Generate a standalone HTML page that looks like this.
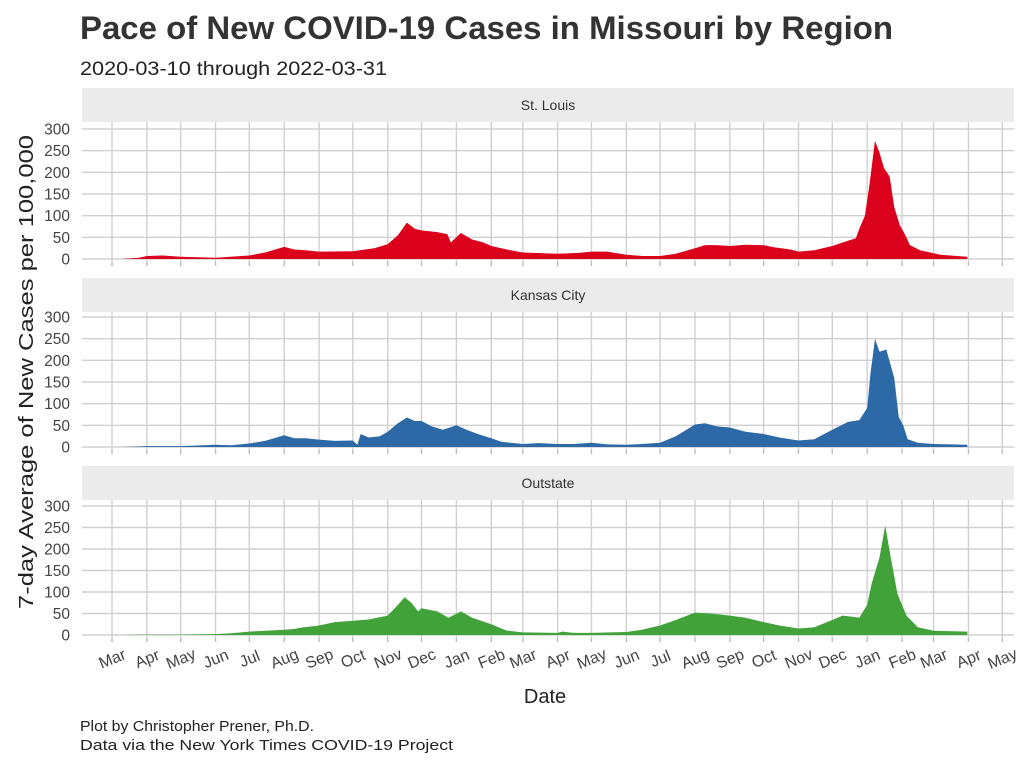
<!DOCTYPE html>
<html><head><meta charset="utf-8"><style>
body{margin:0;background:#fff;}
svg{display:block;font-family:"Liberation Sans",sans-serif;}
</style></head><body>
<svg id="c" width="1024" height="768"></svg>
<script>
const monthLabels=["Mar","Apr","May","Jun","Jul","Aug","Sep","Oct","Nov","Dec","Jan","Feb","Mar","Apr","May","Jun","Jul","Aug","Sep","Oct","Nov","Dec","Jan","Feb","Mar","Apr","May"];
const yTicks=[0,50,100,150,200,250,300];
const regions=["St. Louis","Kansas City","Outstate"];
const stlDates=["2020-03-10","2020-03-25","2020-04-01","2020-04-15","2020-05-01","2020-06-01","2020-07-01","2020-07-15","2020-08-01","2020-08-10","2020-08-20","2020-09-01","2020-10-01","2020-10-20","2020-11-01","2020-11-10","2020-11-18","2020-11-25","2020-12-01","2020-12-15","2020-12-24","2020-12-27","2021-01-05","2021-01-15","2021-01-25","2021-02-01","2021-02-15","2021-03-01","2021-04-01","2021-04-20","2021-05-01","2021-05-15","2021-06-01","2021-06-15","2021-07-01","2021-07-15","2021-08-01","2021-08-10","2021-08-20","2021-09-01","2021-09-15","2021-10-01","2021-10-10","2021-10-25","2021-11-01","2021-11-15","2021-12-01","2021-12-15","2021-12-22","2021-12-25","2021-12-30","2022-01-03","2022-01-08","2022-01-12","2022-01-16","2022-01-21","2022-01-25","2022-01-30","2022-02-04","2022-02-08","2022-02-17","2022-03-07","2022-03-31"];
const stlValues=[0,3,7,8,5,3,8,15,28,22,20,17,18,25,34,55,84,70,66,62,57,38,60,45,38,30,22,15,12,14,17,17,10,7,7,12,25,32,32,30,33,32,27,22,17,20,30,42,48,70,100,170,273,245,210,190,120,78,55,32,20,10,5];
const kcDates=["2020-03-10","2020-04-01","2020-05-01","2020-06-01","2020-06-15","2020-07-01","2020-07-15","2020-08-01","2020-08-10","2020-08-20","2020-09-01","2020-09-15","2020-10-01","2020-10-05","2020-10-08","2020-10-15","2020-10-25","2020-11-01","2020-11-10","2020-11-18","2020-11-25","2020-12-01","2020-12-10","2020-12-20","2021-01-01","2021-01-10","2021-01-20","2021-02-01","2021-02-10","2021-03-01","2021-03-15","2021-04-01","2021-04-15","2021-05-01","2021-05-15","2021-06-01","2021-06-15","2021-07-01","2021-07-15","2021-08-01","2021-08-10","2021-08-20","2021-09-01","2021-09-15","2021-10-01","2021-10-15","2021-11-01","2021-11-15","2021-12-01","2021-12-15","2021-12-25","2022-01-01","2022-01-04","2022-01-08","2022-01-12","2022-01-18","2022-01-25","2022-01-29","2022-02-02","2022-02-06","2022-02-15","2022-03-01","2022-03-31"];
const kcValues=[0,2,2,5,4,8,14,27,20,20,17,14,15,5,30,22,25,35,55,68,60,60,48,40,50,40,30,20,12,7,9,7,7,10,6,5,7,10,25,52,55,48,45,35,30,22,15,18,40,58,62,90,170,250,220,225,160,70,50,18,10,7,5];
const outDates=["2020-03-10","2020-04-01","2020-05-01","2020-06-01","2020-06-15","2020-07-01","2020-07-15","2020-08-01","2020-08-10","2020-08-15","2020-09-01","2020-09-15","2020-10-01","2020-10-15","2020-11-01","2020-11-10","2020-11-16","2020-11-22","2020-11-28","2020-12-01","2020-12-15","2020-12-25","2021-01-05","2021-01-15","2021-02-01","2021-02-15","2021-03-01","2021-04-01","2021-04-05","2021-04-15","2021-05-01","2021-06-01","2021-06-15","2021-07-01","2021-07-15","2021-08-01","2021-08-15","2021-09-01","2021-09-15","2021-10-01","2021-10-15","2021-11-01","2021-11-15","2021-12-01","2021-12-10","2021-12-20","2021-12-25","2022-01-01","2022-01-05","2022-01-12","2022-01-17","2022-01-22","2022-01-28","2022-02-05","2022-02-15","2022-03-01","2022-03-31"];
const outValues=[0,1,1,2,4,8,10,12,14,17,22,30,33,36,45,70,88,75,55,62,55,40,55,40,25,10,6,5,8,5,5,7,12,22,35,52,50,45,40,30,22,15,18,35,45,42,40,70,120,180,255,180,95,45,18,10,8];
const seriesDates=[stlDates,kcDates,outDates];
const seriesValues=[stlValues,kcValues,outValues];
const colors=["#db001b","#2d69a6","#41a23a"];

const NS="http://www.w3.org/2000/svg";
const svg=document.getElementById('c');
function el(t,a,p){const e=document.createElementNS(NS,t);for(const k in a)e.setAttribute(k,a[k]);(p||svg).appendChild(e);return e;}
const X0=82,X1=1014,PX0=80.5,day0=Date.UTC(2020,1,2),PXD=1.1254;
function xs(d){const t=typeof d==="string"?Date.parse(d+"T00:00:00Z"):d;return PX0+(t-day0)/86400000*PXD;}
const panels=[{strip:88,y0:259,y300:129},{strip:278,y0:447,y300:317},{strip:466,y0:635,y300:506}];
const monthDates=[];for(let i=0;i<monthLabels.length;i++){monthDates.push(Date.UTC(2020,2+i,1));}

let t=el('text',{x:80,y:39,'font-size':32,'font-weight':'bold',fill:'#333',textLength:813,lengthAdjust:'spacingAndGlyphs'});t.textContent="Pace of New COVID-19 Cases in Missouri by Region";

t=el('text',{x:80,y:75,'font-size':19,fill:'#222',textLength:307,lengthAdjust:'spacingAndGlyphs'});t.textContent="2020-03-10 through 2022-03-31";


panels.forEach((p,i)=>{
  const g=el('g',{});
  
  
  const ys=v=>p.y0-(v/300)*(p.y0-p.y300);
  const s=el('rect',{x:X0,y:p.strip,width:X1-X0,height:34,fill:'#ebebeb'},g);
  
  const st=el('text',{x:(X0+X1)/2,y:p.strip+22,'font-size':14,'text-anchor':'middle',fill:'#333'},g);st.textContent=regions[i];
  
  const top=p.strip+34,bot=ys(-7);
  monthDates.forEach(m=>{const x=xs(m);el('line',{x1:x,x2:x,y1:top,y2:bot,stroke:'#d0d0d0','stroke-width':1.4},g);el('line',{x1:x,x2:x,y1:bot,y2:bot+4,stroke:'#bbb','stroke-width':1.4},g);});
  yTicks.forEach(v=>{const y=ys(v);el('line',{x1:X0,x2:X1,y1:y,y2:y,stroke:'#d0d0d0','stroke-width':1.4},g);
    const l=el('text',{x:70,y:y+5.5,'font-size':15.5,'text-anchor':'end',fill:'#444'},g);l.textContent=v;
    });
  const D=seriesDates[i],V=seriesValues[i];
  let d='M'+xs(D[0]).toFixed(1)+','+ys(0);
  D.forEach((dt,k)=>{d+=' L'+xs(dt).toFixed(1)+','+ys(V[k]).toFixed(1);});
  d+=' L'+xs(D[D.length-1]).toFixed(1)+','+ys(0)+' Z';
  const a=el('path',{d:d,fill:colors[i]},g);
  
});
monthDates.forEach((m,i)=>{const x=xs(m);const l=el('text',{x:x,y:664,'font-size':16,'text-anchor':'middle',fill:'#444',transform:'rotate(-22 '+x+' 658)'});l.textContent=monthLabels[i];
  });
t=el('text',{x:545,y:703,'font-size':20,'text-anchor':'middle',fill:'#222'});t.textContent="Date";

t=el('text',{x:33,y:372,'font-size':20,'text-anchor':'middle',fill:'#222',transform:'rotate(-90 33 372)',textLength:474,lengthAdjust:'spacingAndGlyphs'});t.textContent="7-day Average of New Cases per 100,000";

t=el('text',{x:80,y:731,'font-size':15,fill:'#222',textLength:234,lengthAdjust:'spacingAndGlyphs'});t.textContent="Plot by Christopher Prener, Ph.D.";

t=el('text',{x:80,y:750,'font-size':15,fill:'#222',textLength:373,lengthAdjust:'spacingAndGlyphs'});t.textContent="Data via the New York Times COVID-19 Project";

</script>
</body></html>
